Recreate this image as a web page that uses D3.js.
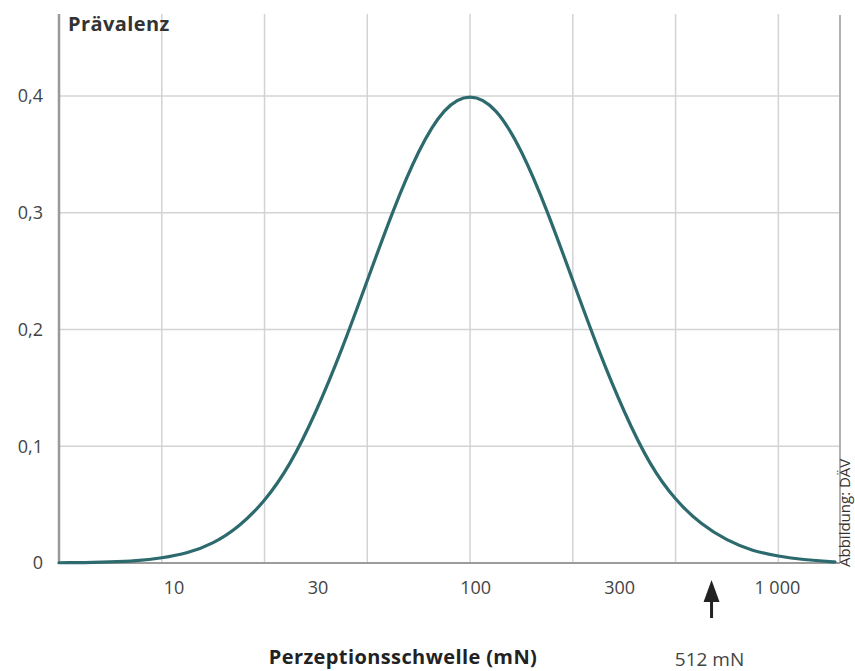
<!DOCTYPE html>
<html lang="de">
<head>
<meta charset="UTF-8">
<title>Prävalenz der Perzeptionsschwelle</title>
<script src="https://cdn.jsdelivr.net/npm/d3@7"></script>
<style>
  body { margin: 0; background: #fff; font-family: 'Open Sans', sans-serif; }
  .grid line { stroke: #d3d3d3; stroke-width: 1.5px; }
  .tick-label { font-size: 18px; fill: #444; }
  .title { font-size: 20px; font-weight: 700; letter-spacing: 0.4px; }
</style>
</head>
<body>
<div id="chart"></div>
<script>
// curve: position in standard deviations (gridline steps) and prevalence
const curveZ = [-4, -3.75, -3.5, -3.25, -3, -2.75, -2.5, -2.25, -2, -1.75, -1.5, -1.25, -1, -0.75, -0.5, -0.25,
                0, 0.25, 0.5, 0.75, 1, 1.25, 1.5, 1.75, 2, 2.25, 2.5, 2.75, 3, 3.25, 3.5, 3.55];
const curveP = [0.0002, 0.0004, 0.0009, 0.002, 0.0045, 0.009, 0.0175, 0.032, 0.054, 0.086, 0.13, 0.183, 0.242, 0.301, 0.352, 0.387,
                0.399, 0.387, 0.352, 0.301, 0.242, 0.183, 0.13, 0.086, 0.055, 0.034, 0.02, 0.011, 0.006, 0.003, 0.0012, 0.001];

const gridZ = [-3, -2, -1, 0, 1, 2, 3];
const yTicks = [0, 0.1, 0.2, 0.3, 0.4];
const yTickLabels = ['0', '0,1', '0,2', '0,3', '0,4'];
const xTicksMn = [10, 30, 100, 300, 1000];
const xTickLabels = ['10', '30', '100', '300', '1 000'];
const arrowZ = 2.35;          // arrow under the axis
const arrowLabel = '512 mN';

const width = 855, height = 671;

const svg = d3.select('#chart').append('svg')
    .attr('width', width)
    .attr('height', height);

const x = d3.scaleLinear().domain([-4, 3.6]).range([59, 840]);
const y = d3.scaleLinear().domain([0, 0.4]).range([563, 96]);
// mN labels sit on a log scale laid over the sigma axis
const xMn = d3.scaleLog().domain([10, 1000]).range([x(-2.88), x(2.99)]);

const gridTop = 14;

// gridlines
const grid = svg.append('g').attr('class', 'grid');
grid.selectAll('.v').data(gridZ).enter().append('line')
    .attr('x1', d => x(d)).attr('x2', d => x(d))
    .attr('y1', gridTop).attr('y2', y(0));
grid.selectAll('.h').data(yTicks.slice(1)).enter().append('line')
    .attr('x1', x(-4)).attr('x2', x(3.6))
    .attr('y1', d => y(d)).attr('y2', d => y(d));

// frame lines
svg.append('line')
    .attr('x1', x(3.6)).attr('x2', x(3.6)).attr('y1', gridTop + 1).attr('y2', y(0))
    .attr('stroke', '#b0b0b0').attr('stroke-width', 2);
svg.append('line')
    .attr('x1', x(-4)).attr('x2', x(3.6)).attr('y1', y(0)).attr('y2', y(0))
    .attr('stroke', '#9c9c9c').attr('stroke-width', 2);
svg.append('line')
    .attr('x1', x(-4)).attr('x2', x(-4)).attr('y1', gridTop).attr('y2', y(0) + 1)
    .attr('stroke', '#999').attr('stroke-width', 2.5);

// y labels
svg.selectAll('.ylab').data(yTicks).enter().append('text')
    .attr('class', 'tick-label')
    .attr('x', 43)
    .attr('y', d => y(d))
    .attr('dy', '0.35em')
    .attr('text-anchor', 'end')
    .text((d, i) => yTickLabels[i]);

// x labels
svg.selectAll('.xlab').data(xTicksMn).enter().append('text')
    .attr('class', 'tick-label')
    .attr('x', d => xMn(d))
    .attr('y', 594)
    .attr('text-anchor', 'middle')
    .text((d, i) => xTickLabels[i]);

// curve
const pts = curveZ.map((z, i) => [z, curveP[i]]);
const line = d3.line()
    .x(d => x(d[0]))
    .y(d => y(d[1]))
    .curve(d3.curveNatural);
svg.append('path')
    .datum(pts)
    .attr('d', line)
    .attr('fill', 'none')
    .attr('stroke', '#2c6a6d')
    .attr('stroke-width', 3.2)
    .attr('stroke-linecap', 'round');

// titles
svg.append('text')
    .attr('class', 'title')
    .attr('x', 68).attr('y', 31)
    .attr('fill', '#333')
    .text('Prävalenz');

svg.append('text')
    .attr('class', 'title')
    .attr('x', 403).attr('y', 664)
    .attr('text-anchor', 'middle')
    .attr('fill', '#222')
    .text('Perzeptionsschwelle (mN)');

// arrow + label
const ax = x(arrowZ);
svg.append('line')
    .attr('x1', ax).attr('x2', ax).attr('y1', 596).attr('y2', 618)
    .attr('stroke', '#222').attr('stroke-width', 3);
svg.append('path')
    .attr('d', d3.line()([[ax, 580], [ax - 8, 602], [ax + 8, 602]]) + 'Z')
    .attr('fill', '#222');
svg.append('text')
    .attr('class', 'tick-label')
    .attr('x', ax - 2).attr('y', 666)
    .attr('text-anchor', 'middle')
    .style('font-size', '19px')
    .text(arrowLabel);

// credit
svg.append('text')
    .attr('transform', 'translate(850,567) rotate(-90)')
    .attr('font-size', 15)
    .attr('fill', '#333')
    .text('Abbildung: DÄV');
</script>
</body>
</html>
